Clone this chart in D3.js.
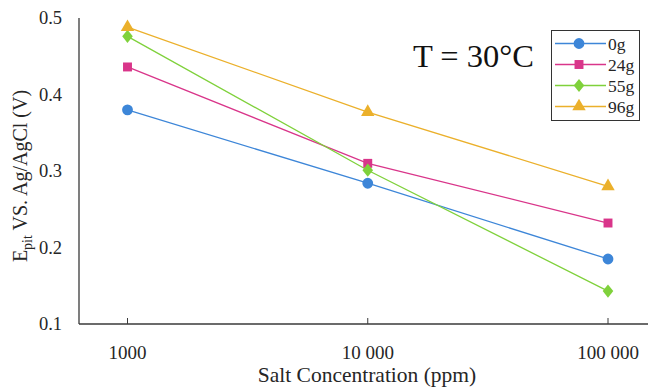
<!DOCTYPE html>
<html>
<head>
<meta charset="utf-8">
<script src="https://cdn.jsdelivr.net/npm/d3@7"></script>
<style>
  html, body { margin: 0; padding: 0; background: #fff; }
  svg { display: block; font-family: "Liberation Serif", "Times New Roman", serif; }
</style>
</head>
<body>
<svg id="chart" width="648" height="391"></svg>
<script>
// Salt concentrations (ppm) on a log axis
const concentrations = [1000, 10000, 100000];
const xTickLabels = ["1000", "10 000", "100 000"];
const yTicks = [0.1, 0.2, 0.3, 0.4, 0.5];

// Pitting potential (V vs Ag/AgCl) per sugar loading
const seriesNames = ["0g", "24g", "55g", "96g"];
const e0g  = [0.380, 0.284, 0.185];
const e24g = [0.436, 0.310, 0.232];
const e55g = [0.476, 0.301, 0.143];
const e96g = [0.488, 0.377, 0.280];
const seriesColors = ["#3d86d8", "#d9358a", "#7fd13b", "#ebb02b"];

// Diamond a little wider than d3's built-in one
const wideDiamond = {
  draw(context, size) {
    const h = Math.sqrt(size / 1.6), w = 0.8 * h;
    context.moveTo(0, -h);
    context.lineTo(w, 0);
    context.lineTo(0, h);
    context.lineTo(-w, 0);
    context.closePath();
  }
};
const seriesSymbols = [d3.symbolCircle, d3.symbolSquare, wideDiamond, d3.symbolTriangle];
const seriesSizes = [92, 80, 70, 78];

const series = [e0g, e24g, e55g, e96g].map((vals, i) => ({
  name: seriesNames[i],
  color: seriesColors[i],
  symbol: seriesSymbols[i],
  size: seriesSizes[i],
  points: vals.map((v, j) => ({ x: concentrations[j], y: v }))
}));

const svg = d3.select("#chart");
const x = d3.scaleLog().domain([1000, 100000]).range([127.5, 608]);
const y = d3.scaleLinear().domain([0.1, 0.5]).range([324, 18]);
const axisLeftX = 79, axisRightX = 648;

// Axes lines
const axisColor = "#3a3a3a";
svg.append("line").attr("x1", axisLeftX).attr("x2", axisLeftX)
  .attr("y1", y(0.5)).attr("y2", y(0.1))
  .attr("stroke", axisColor).attr("stroke-width", 1.3);
svg.append("line").attr("x1", axisLeftX).attr("x2", axisRightX)
  .attr("y1", y(0.1)).attr("y2", y(0.1))
  .attr("stroke", axisColor).attr("stroke-width", 1.3);

// X ticks (pointing inward) and labels
const xg = svg.append("g");
concentrations.forEach((c, i) => {
  xg.append("line").attr("x1", x(c)).attr("x2", x(c))
    .attr("y1", y(0.1)).attr("y2", y(0.1) - 6)
    .attr("stroke", axisColor).attr("stroke-width", 1);
  xg.append("text").attr("x", x(c)).attr("y", 359)
    .attr("text-anchor", "middle").attr("font-size", 19).attr("fill", "#262626")
    .text(xTickLabels[i]);
});

// Y tick labels
const yg = svg.append("g");
yTicks.forEach(t => {
  yg.append("text").attr("x", 62).attr("y", y(t)).attr("dy", "0.35em")
    .attr("text-anchor", "end").attr("font-size", 18.5).attr("fill", "#262626")
    .text(d3.format(".1f")(t));
});

// Axis titles
svg.append("text").attr("x", 367).attr("y", 382)
  .attr("text-anchor", "middle").attr("font-size", 21.5).attr("fill", "#262626")
  .text("Salt Concentration (ppm)");

const yl = svg.append("text")
  .attr("transform", "translate(27,176) rotate(-90)")
  .attr("text-anchor", "middle").attr("font-size", 20).attr("fill", "#262626");
yl.append("tspan").text("E");
yl.append("tspan").attr("dy", 5).attr("font-size", 14).text("pit");
yl.append("tspan").attr("dy", -5).text(" VS. Ag/AgCl (V)");

// Lines and markers
const line = d3.line().x(d => x(d.x)).y(d => y(d.y));
series.forEach(s => {
  svg.append("path").datum(s.points)
    .attr("d", line).attr("fill", "none")
    .attr("stroke", s.color).attr("stroke-width", 1.3);
});
series.forEach(s => {
  svg.append("g").selectAll("path").data(s.points).join("path")
    .attr("transform", d => `translate(${x(d.x)},${y(d.y)})`)
    .attr("d", d3.symbol().type(s.symbol).size(s.size))
    .attr("fill", s.color);
});

// Annotation
svg.append("text").attr("x", 473.5).attr("y", 67)
  .attr("text-anchor", "middle").attr("font-size", 32.5).attr("fill", "#111")
  .text("T = 30°C");

// Legend
const lg = svg.append("g");
lg.append("rect").attr("x", 551.5).attr("y", 30.5).attr("width", 88).attr("height", 90)
  .attr("fill", "#fff").attr("stroke", "#333").attr("stroke-width", 1);
series.forEach((s, i) => {
  const ly = 43.5 + i * 21;
  lg.append("line").attr("x1", 555).attr("x2", 606).attr("y1", ly).attr("y2", ly)
    .attr("stroke", s.color).attr("stroke-width", 1.3);
  lg.append("path").attr("transform", `translate(579,${ly})`)
    .attr("d", d3.symbol().type(s.symbol).size(s.size)).attr("fill", s.color);
  lg.append("text").attr("x", 608).attr("y", ly).attr("dy", "0.35em")
    .attr("font-size", 17.5).attr("fill", "#262626").text(s.name);
});
</script>
</body>
</html>
